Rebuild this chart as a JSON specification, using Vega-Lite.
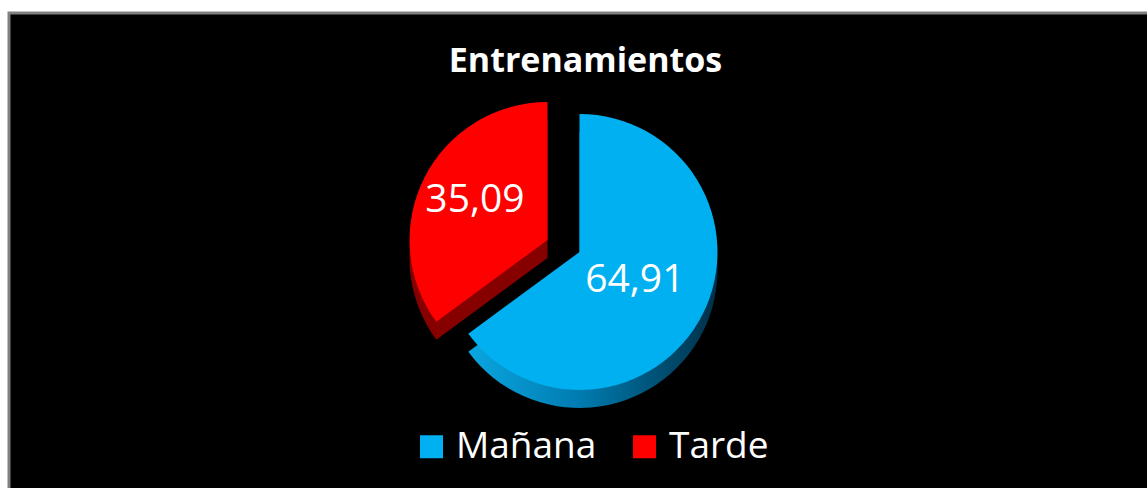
{
  "$schema": "https://vega.github.io/schema/vega-lite/v6.json",
  "width": 1147,
  "height": 488,
  "autosize": {"type": "fit", "contains": "padding"},
  "padding": {"left": 9, "top": 13, "right": -3, "bottom": -3},
  "background": "white",
  "view": {"fill": "black", "stroke": "#808080", "strokeWidth": 3},
  "config": {
    "locale": {"number": {"decimal": ",", "thousands": ".", "grouping": [3], "currency": ["", " €"]}}
  },
  "title": {
    "text": "Entrenamientos",
    "color": "white",
    "font": "Open Sans",
    "fontSize": 34,
    "fontWeight": "bold",
    "anchor": "middle",
    "offset": -66,
    "dx": 6
  },
  "data": {
    "values": [
      {"turno": "Mañana", "pct": 64.91},
      {"turno": "Tarde", "pct": 35.09}
    ]
  },
  "layer": [
    {
      "mark": {
        "type": "arc",
        "radius": 138,
        "yOffset": 18,
        "fill": {
          "gradient": "linear",
          "x1": 0, "x2": 1, "y1": 0, "y2": 0,
          "stops": [
            {"offset": 0, "color": "#0aa6e0"},
            {"offset": 0.45, "color": "#007bb0"},
            {"offset": 1, "color": "#003048"}
          ]
        }
      },
      "encoding": {
        "theta": {"field": "pct", "type": "quantitative", "stack": true},
        "order": {"field": "turno", "sort": "ascending"},
        "opacity": {"condition": {"test": "datum.turno === 'Mañana'", "value": 1}, "value": 0}
      }
    },
    {
      "mark": {"type": "arc", "radius": 138, "xOffset": -32, "yOffset": 6, "fill": "#860000"},
      "encoding": {
        "theta": {"field": "pct", "type": "quantitative", "stack": true},
        "order": {"field": "turno", "sort": "ascending"},
        "opacity": {"condition": {"test": "datum.turno === 'Tarde'", "value": 1}, "value": 0}
      }
    },
    {
      "mark": {"type": "arc", "radius": 138},
      "encoding": {
        "theta": {"field": "pct", "type": "quantitative", "stack": true},
        "order": {"field": "turno", "sort": "ascending"},
        "color": {
          "field": "turno",
          "type": "nominal",
          "scale": {"domain": ["Mañana", "Tarde"], "range": ["#00b0f0", "#ff0000"]},
          "legend": {
            "title": null,
            "orient": "none",
            "direction": "horizontal",
            "legendX": 404,
            "legendY": 415,
            "padding": 0,
            "symbolType": "square",
            "symbolSize": 529,
            "symbolStrokeWidth": 0,
            "symbolOpacity": 1,
            "labelFont": "Open Sans",
            "labelFontSize": 37,
            "labelColor": "white",
            "labelOffset": 6,
            "columnPadding": 29,
            "labelLimit": 300
          }
        },
        "opacity": {"condition": {"test": "datum.turno === 'Mañana'", "value": 1}, "value": 0}
      }
    },
    {
      "mark": {"type": "arc", "radius": 138, "xOffset": -32, "yOffset": -12},
      "encoding": {
        "theta": {"field": "pct", "type": "quantitative", "stack": true},
        "order": {"field": "turno", "sort": "ascending"},
        "color": {"field": "turno", "type": "nominal"},
        "opacity": {"condition": {"test": "datum.turno === 'Tarde'", "value": 1}, "value": 0}
      }
    },
    {
      "mark": {"type": "text", "radius": 62, "font": "Open Sans", "fontSize": 39, "color": "white"},
      "encoding": {
        "theta": {"field": "pct", "type": "quantitative", "stack": true},
        "order": {"field": "turno", "sort": "ascending"},
        "text": {"field": "pct", "type": "quantitative", "format": ".2f"},
        "opacity": {"condition": {"test": "datum.turno === 'Mañana'", "value": 1}, "value": 0}
      }
    },
    {
      "mark": {"type": "text", "radius": 88, "xOffset": -26, "yOffset": -12, "font": "Open Sans", "fontSize": 39, "color": "white"},
      "encoding": {
        "theta": {"field": "pct", "type": "quantitative", "stack": true},
        "order": {"field": "turno", "sort": "ascending"},
        "text": {"field": "pct", "type": "quantitative", "format": ".2f"},
        "opacity": {"condition": {"test": "datum.turno === 'Tarde'", "value": 1}, "value": 0}
      }
    }
  ]
}
